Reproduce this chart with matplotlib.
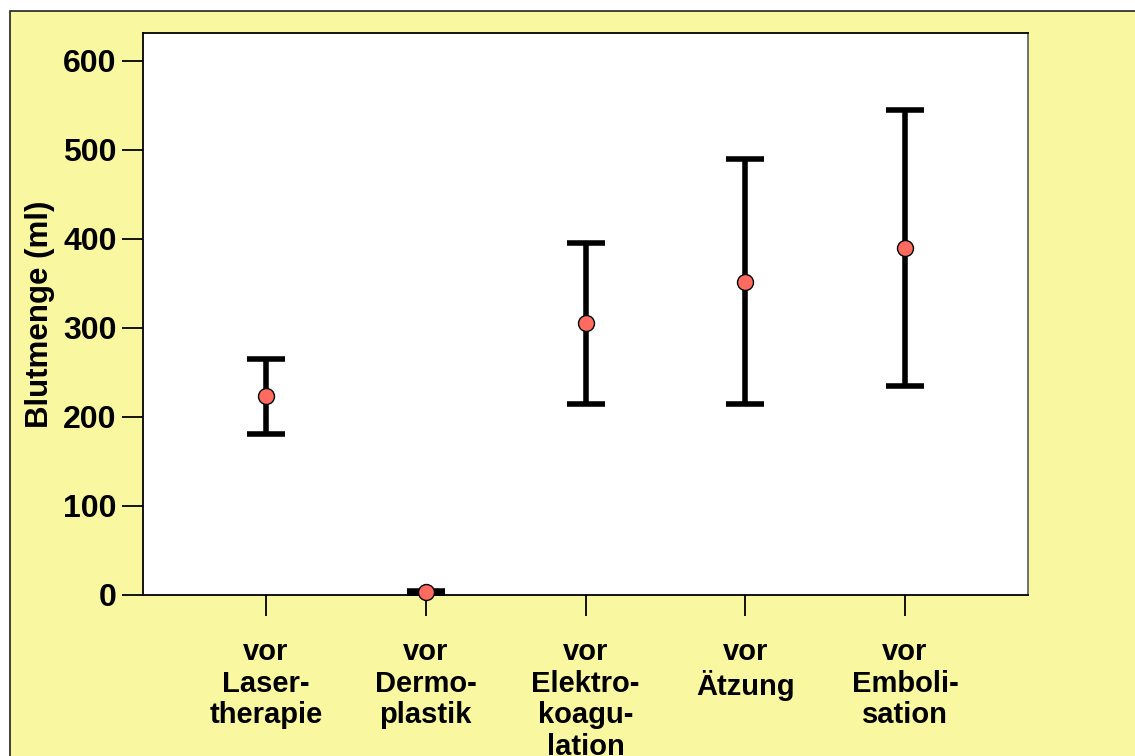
import matplotlib
matplotlib.use("Agg")
import matplotlib.pyplot as plt
from matplotlib.patches import Rectangle

categories = ["vor\nLaser-\ntherapie", "vor\nDermo-\nplastik", "vor\nElektro-\nkoagu-\nlation",
              "vor\nÄtzung", "vor\nEmboli-\nsation"]
means = [223, 3, 305, 351, 390]
lower = [181, 1, 215, 215, 235]
upper = [265, 5, 395, 489, 545]
yticks = [0, 100, 200, 300, 400, 500, 600]

plt.rcParams['font.family'] = ['Liberation Sans', 'DejaVu Sans']
plt.rcParams['font.weight'] = 'bold'

dpi = 100
fig = plt.figure(figsize=(11.35, 7.56), dpi=dpi)
fig.patch.set_facecolor('white')
bg = Rectangle((10 / 1135, -0.01), 1.02, 1 - 11 / 756 + 0.01, transform=fig.transFigure,
               facecolor='#F9F7A0', edgecolor='#222222', linewidth=1.2, zorder=-10)
fig.patches.append(bg)

ax = fig.add_axes([143 / 1135, 1 - 595 / 756, (1028 - 143) / 1135, (595 - 33) / 756])
ax.set_zorder(1)
ax.set_facecolor('white')
x = list(range(1, len(categories) + 1))
yerr = [[m - l for m, l in zip(means, lower)], [u - m for m, u in zip(means, upper)]]
ax.errorbar(x, means, yerr=yerr, fmt='none', ecolor='black', elinewidth=4,
            capsize=14, capthick=4, zorder=3)
ax.plot(x, means, 'o', markersize=11.5, markerfacecolor='#FF6B5E',
        markeredgecolor='black', markeredgewidth=1, zorder=4, clip_on=False)

ax.set_xlim(0.23, 5.77)
ax.set_ylim(0, 631)
ax.set_yticks(yticks)
ax.set_xticks(x)
ax.set_xticklabels(categories, fontsize=21, fontweight='bold', va='top', linespacing=1.16)
ax.tick_params(axis='y', labelsize=23, length=15, width=1.3, direction='out', pad=4)
ax.tick_params(axis='x', length=15, width=1.3, direction='out', pad=16)
for s in ax.spines.values():
    s.set_linewidth(1.3)
ax.spines['right'].set_color('#666666')
ax.set_ylabel("Blutmenge (ml)", fontsize=22.5, fontweight='bold', labelpad=6)

fig.savefig("out.png", dpi=dpi, facecolor=fig.get_facecolor())
